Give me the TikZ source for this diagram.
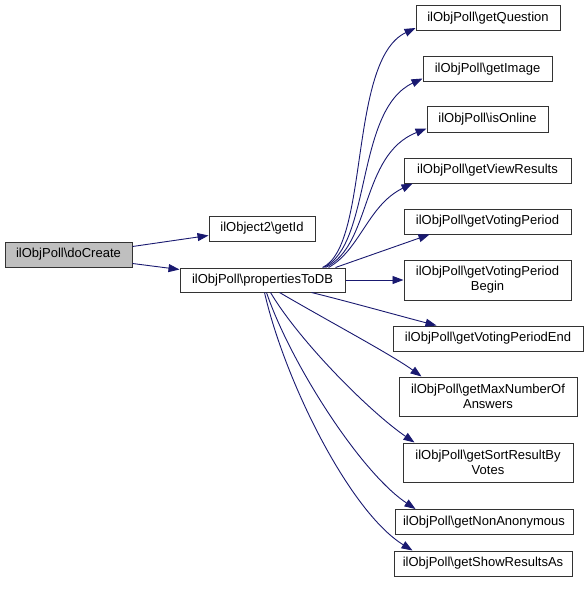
\documentclass[tikz,border=0pt]{standalone}
\usepackage{fontspec}
\setmainfont{Liberation Sans}
\usetikzlibrary{arrows.meta,calc}
\definecolor{edgec}{HTML}{191970}
\definecolor{greyfill}{HTML}{BFBFBF}
\begin{document}
\begin{tikzpicture}[x=1pt,y=-1pt,
  box/.style={draw=black!80,line width=1pt,fill=white,inner sep=0pt,minimum height=25pt,align=center,font=\fontsize{13}{15}\selectfont},
  edge/.style={draw=edgec,line width=0.9pt,-{Triangle[length=11pt,width=8pt]}}]
\useasboundingbox (0,0) rectangle (588,591);
\node[box,fill=greyfill,minimum width=127pt] (dc) at (68.5,254.5) {ilObjPoll\textbackslash doCreate};
\node[box,minimum width=106pt] (gid) at (262,228.5) {ilObject2\textbackslash getId};
\node[box,minimum width=165pt,minimum height=24pt] (p) at (262.5,280) {ilObjPoll\textbackslash propertiesToDB};
\node[box,minimum width=144pt] (q) at (488,18) {ilObjPoll\textbackslash getQuestion};
\node[box,minimum width=129pt] (img) at (487.5,69.5) {ilObjPoll\textbackslash getImage};
\node[box,minimum width=121pt] (on) at (487.5,119.5) {ilObjPoll\textbackslash isOnline};
\node[box,minimum width=167pt] (vr) at (487.5,170.5) {ilObjPoll\textbackslash getViewResults};
\node[box,minimum width=167pt] (vp) at (487.5,221.5) {ilObjPoll\textbackslash getVotingPeriod};
\node[box,minimum width=167pt,minimum height=40pt] (vpb) at (487.5,280) {ilObjPoll\textbackslash getVotingPeriod\\Begin};
\node[box,minimum width=190pt] (vpe) at (488,338.5) {ilObjPoll\textbackslash getVotingPeriodEnd};
\node[box,minimum width=178pt,minimum height=39pt] (mx) at (488,396.5) {ilObjPoll\textbackslash getMaxNumberOf\\Answers};
\node[box,minimum width=170pt,minimum height=39pt] (sr) at (488,462.5) {ilObjPoll\textbackslash getSortResultBy\\Votes};
\node[box,minimum width=178pt] (na) at (484,522) {ilObjPoll\textbackslash getNonAnonymous};
\node[box,minimum width=178pt] (sh) at (483,563.5) {ilObjPoll\textbackslash getShowResultsAs};
% left edges
\draw[edge] ($(dc.north east)+(0,5)$) -- ($(gid.south west)+(0,-6)$);
\draw[edge] ($(dc.south east)+(0,-4)$) -- ($(p.north west)+(0,2)$);
% top fan
\draw[edge] ($(p.north east)+(-23,0)$) .. controls (370,245) and (348,60) .. ($(q.south west)+(0,-3)$);
\draw[edge] ($(p.north east)+(-22,0)$) .. controls (372,245) and (355,110) .. ($(img.south west)+(0,-4)$);
\draw[edge] ($(p.north east)+(-20,0)$) .. controls (372,245) and (360,155) .. ($(on.south west)+(0,-4)$);
\draw[edge] ($(p.north east)+(-17,0)$) .. controls (360,250) and (368,205) .. ($(vr.south west)+(9,0)$);
\draw[edge] ($(p.north east)+(-10,0)$) -- ($(vp.south west)+(26,0)$);
\draw[edge] (p.east) -- (vpb.west);
% bottom fan
\draw[edge] ($(p.south west)+(132,0)$) .. controls (350,302) and (400,316) .. ($(vpe.north west)+(44,0)$);
\draw[edge] ($(p.south west)+(100,0)$) .. controls (330,322) and (392,355) .. ($(mx.north west)+(23,0)$);
\draw[edge] ($(p.south west)+(91,0)$) .. controls (300,342) and (370,412) .. ($(sr.north west)+(12,0)$);
\draw[edge] ($(p.south west)+(87,0)$) .. controls (290,362) and (360,472) .. ($(na.north west)+(21,0)$);
\draw[edge] ($(p.south west)+(85,0)$) .. controls (285,382) and (350,512) .. ($(sh.north west)+(19,0)$);
\end{tikzpicture}
\end{document}
